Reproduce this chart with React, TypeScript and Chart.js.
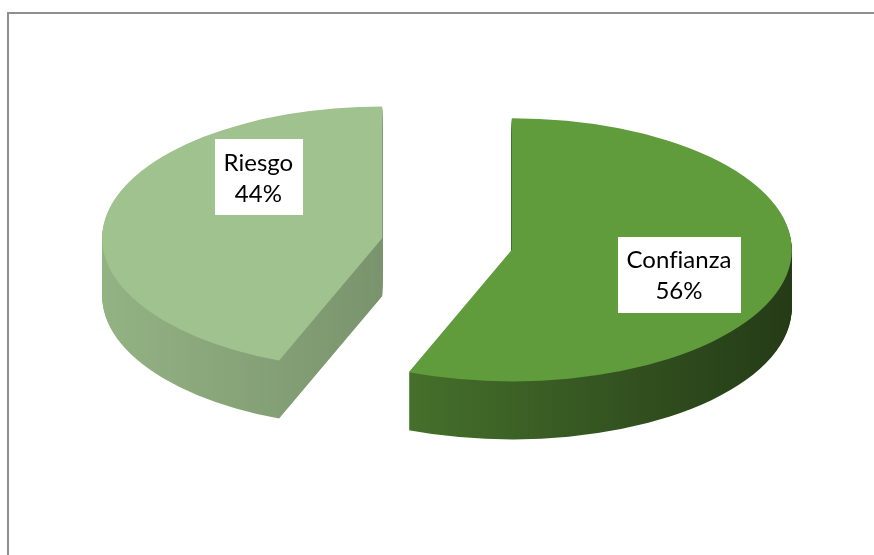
import React, { useEffect, useRef } from 'react';
import { Chart, registerables } from 'chart.js';

Chart.register(...registerables);

// ---- data ----
const categories = ['Confianza', 'Riesgo'];
const shares = [56, 44];
const shareLabels = ['56%', '44%'];
const sliceColors = ['#609B3C', '#A0C28F'];

// ---- view / style (not data) ----
const VIEW = { cx: 447, cy: 244, squash: 0.47, depth: 58, explode: 66, radius: 280 };
const SIDE_SHADE = [
  { from: 0.28, to: 0.62 },
  { from: 0.08, to: 0.24 },
];
const LABEL_PLACE = [
  { frac: 0.627, turnDeg: 7 },
  { frac: 0.64, turnDeg: 35.5 },
];
const LABEL_FONT = '24px Lato, "Open Sans", sans-serif';
const LABEL_LINE = 31;

function geom(arc: any) {
  const p = arc.getProps(['x', 'y', 'startAngle', 'endAngle', 'outerRadius'], true);
  const mid = (p.startAngle + p.endAngle) / 2;
  const ex = Math.cos(mid) * VIEW.explode;
  const ey = Math.sin(mid) * VIEW.explode;
  return { ...p, mid, ex, ey };
}

function applyView(ctx: CanvasRenderingContext2D, g: any, d: number) {
  ctx.translate(VIEW.cx - g.x + g.ex, VIEW.cy + d);
  ctx.scale(1, VIEW.squash);
  ctx.translate(0, -g.y + g.ey);
}

const pie3d = {
  id: 'pie3d',
  beforeDatasetsDraw(chart: any) {
    const ctx: CanvasRenderingContext2D = chart.ctx;
    const arcs = chart.getDatasetMeta(0).data;
    const gs = arcs.map((a: any) => geom(a));

    // extruded side walls
    arcs.forEach((arc: any, i: number) => {
      const g = gs[i];
      for (let d = VIEW.depth; d >= 1; d--) {
        ctx.save();
        applyView(ctx, g, d);
        arc.draw(ctx);
        ctx.restore();
      }
    });

    // shading of the walls
    ctx.save();
    ctx.globalCompositeOperation = 'source-atop';
    arcs.forEach((arc: any, i: number) => {
      const g = gs[i];
      let minX = Infinity;
      let maxX = -Infinity;
      const ox = VIEW.cx + g.ex;
      const steps = 60;
      for (let s = 0; s <= steps; s++) {
        const a = g.startAngle + ((g.endAngle - g.startAngle) * s) / steps;
        const x = ox + Math.cos(a) * g.outerRadius;
        minX = Math.min(minX, x);
        maxX = Math.max(maxX, x);
      }
      minX = Math.min(minX, ox);
      maxX = Math.max(maxX, ox);
      const grad = ctx.createLinearGradient(minX, 0, maxX, 0);
      grad.addColorStop(0, `rgba(0,0,0,${SIDE_SHADE[i].from})`);
      grad.addColorStop(1, `rgba(0,0,0,${SIDE_SHADE[i].to})`);
      ctx.fillStyle = grad;
      ctx.fillRect(minX - 3, 0, maxX - minX + 6, chart.height);
    });
    ctx.restore();

    // top faces
    arcs.forEach((arc: any, i: number) => {
      ctx.save();
      applyView(ctx, gs[i], 0);
      arc.draw(ctx);
      ctx.restore();
    });
    return false;
  },
  afterDraw(chart: any) {
    const ctx: CanvasRenderingContext2D = chart.ctx;
    const arcs = chart.getDatasetMeta(0).data;
    const names = chart.data.labels;
    arcs.forEach((arc: any, i: number) => {
      const g = geom(arc);
      const place = LABEL_PLACE[i];
      const ang = g.mid + (place.turnDeg * Math.PI) / 180;
      const r = place.frac * g.outerRadius;
      const x = VIEW.cx + g.ex + Math.cos(ang) * r;
      const y = VIEW.cy + g.ey * VIEW.squash + Math.sin(ang) * r * VIEW.squash;
      const lines = [String(names[i]), shareLabels[i]];
      ctx.save();
      ctx.font = LABEL_FONT;
      (ctx as any).textRendering = 'optimizeSpeed';
      const w = Math.max(...lines.map((l) => ctx.measureText(l).width));
      const bw = w + 18;
      const bh = LABEL_LINE * 2 + 14;
      ctx.fillStyle = '#ffffff';
      ctx.fillRect(Math.round(x - bw / 2), Math.round(y - bh / 2), Math.round(bw), bh);
      ctx.fillStyle = '#000000';
      ctx.textAlign = 'center';
      ctx.textBaseline = 'middle';
      ctx.fillText(lines[0], x, y - LABEL_LINE / 2 + 1);
      ctx.fillText(lines[1], x, y + LABEL_LINE / 2 + 1);
      ctx.restore();
    });
  },
};

export default function App() {
  const ref = useRef<HTMLCanvasElement | null>(null);
  useEffect(() => {
    if (!ref.current) return;
    const chart = new Chart(ref.current, {
      type: 'pie',
      data: {
        labels: categories,
        datasets: [
          {
            data: shares,
            backgroundColor: sliceColors,
            borderWidth: 0,
            offset: 0,
            hoverOffset: 0,
            clip: false as any,
          },
        ],
      },
      options: {
        animation: false,
        responsive: false,
        maintainAspectRatio: false,
        radius: VIEW.radius,
        rotation: 0,
        events: [],
        plugins: {
          legend: { display: false },
          tooltip: { enabled: false },
        },
      } as any,
      plugins: [pie3d as any],
    });
    return () => chart.destroy();
  }, []);

  return (
    <div style={{ position: 'fixed', left: 0, top: 0, width: 874, height: 555, background: '#ffffff', overflow: 'hidden' }}>
      <div
        style={{
          position: 'absolute',
          left: 7,
          top: 12,
          width: 900,
          height: 600,
          borderTop: '2px solid #8f8f8f',
          borderLeft: '2px solid #8f8f8f',
          boxSizing: 'border-box',
        }}
      />
      <canvas ref={ref} width={874} height={555} style={{ position: 'absolute', left: 0, top: 0, width: 874, height: 555 }} />
    </div>
  );
}
